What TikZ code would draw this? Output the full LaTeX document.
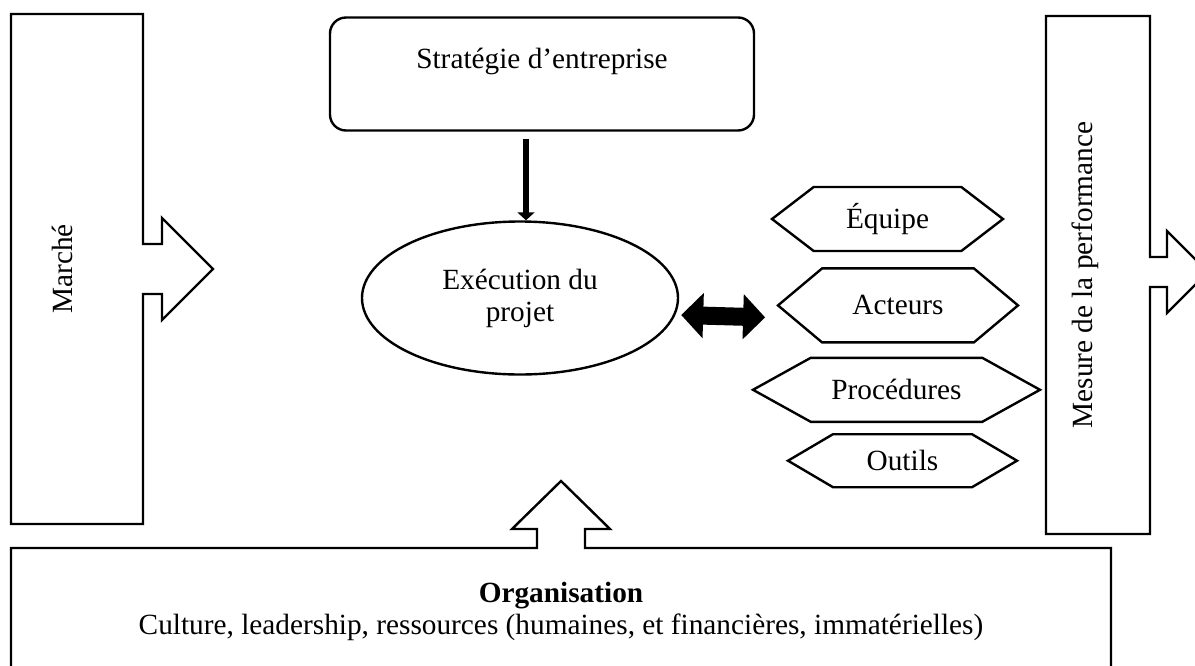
\documentclass[tikz,border=0pt]{standalone}
\usepackage{fontspec}
\setmainfont{Liberation Serif}
\usetikzlibrary{arrows.meta,positioning,shapes.geometric,shapes.symbols}

\begin{document}
\begin{tikzpicture}[x=1pt,y=-1pt,line width=2.4pt,
    every node/.style={font=\fontsize{29.3}{32}\selectfont},
    hexa/.style={signal,signal to=west and east,draw,inner xsep=0pt},
    bigarrow/.style={draw,line join=miter}]

                \useasboundingbox (0,0) rectangle (1195,665);
                \clip (0,0) rectangle (1195,665);

                % block arrows
                \draw[bigarrow] (11,14) -- (143,14) -- (143,244) -- (162,244) -- (162,218)
                     -- (213,269) -- (162,320) -- (162,294) -- (143,294) -- (143,524) -- (11,524) -- cycle;
                \draw[bigarrow] (1046,16) -- (1150,16) -- (1150,257) -- (1167,257) -- (1167,231)
                     -- (1208,272) -- (1167,313) -- (1167,287) -- (1150,287) -- (1150,534) -- (1046,534) -- cycle;
                \draw[bigarrow] (11,700) -- (11,548) -- (537,548) -- (537,529) -- (512,529) -- (561,481)
                     -- (610,529) -- (585,529) -- (585,548) -- (1111,548) -- (1111,700);

                \node[rotate=90] (mkt) at (62,269) {Marché};
                \node[rotate=90] (perf) at (1085,275) {Mesure de la performance};
                \node[align=center] (org) at (561,611) {\textbf{Organisation}\\Culture, leadership, ressources (humaines, et financières, immatérielles)};

                \node[draw,rounded corners=16pt,minimum width=424pt,minimum height=113pt,align=center] (strat) at (542,74) {Stratégie d’entreprise\\ \mbox{}};
                \node[draw,ellipse,minimum width=316pt,minimum height=153pt,align=center,inner sep=0pt] (exec) at (520,298) {Exécution du\\projet};

                \node[hexa,minimum width=231pt,minimum height=64pt,signal pointer angle=75] (eq) at (887.5,219) {Équipe};
                \node[hexa,minimum width=240pt,minimum height=74pt,signal pointer angle=80] (act) [below=15pt of eq,xshift=10.5pt] {Acteurs};
                \node[hexa,minimum width=287pt,minimum height=64pt,signal pointer angle=58] (proc) [below=13pt of act,xshift=-1.5pt] {Procédures};
                \node[hexa,minimum width=229pt,minimum height=53pt,signal pointer angle=61] (out) [below=10pt of proc,xshift=6pt] {Outils};

                \draw[line width=6pt,-{Triangle[width=17pt,length=8pt]}] ([xshift=-16pt,yshift=-7pt]strat.south) -- ([xshift=6pt]exec.north);
                \draw[line width=18pt,{Triangle[width=44pt,length=22pt]}-{Triangle[width=44pt,length=22pt]}] ([xshift=2pt,yshift=-17pt]exec.east) -- ([xshift=-11pt,yshift=-12pt]act.west);

\end{tikzpicture}
\end{document}
